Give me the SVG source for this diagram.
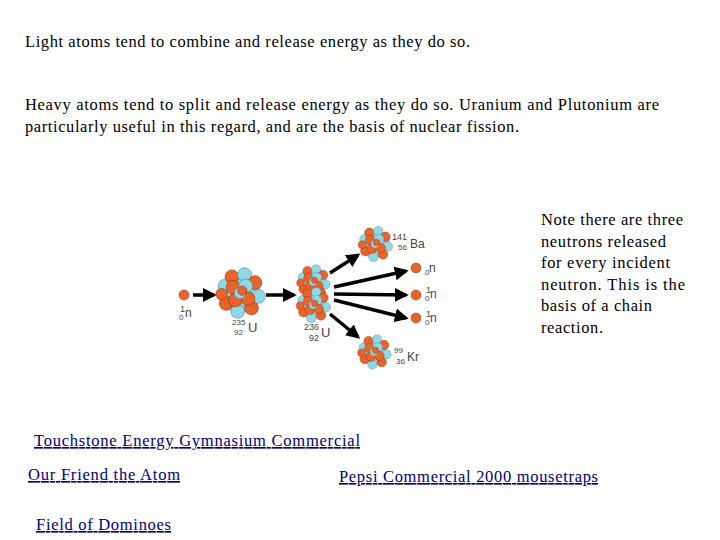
<svg xmlns="http://www.w3.org/2000/svg" xmlns:xlink="http://www.w3.org/1999/xlink" width="720" height="540" viewBox="0 0 720 540">
<style>
.t{font-family:"Liberation Serif",serif;font-size:16.5px;fill:#000}
.l{font-family:"Liberation Serif",serif;font-size:16.5px;fill:#000080;text-decoration:underline}
.s{font-family:"Liberation Sans",sans-serif;fill:#444}
.o{fill:#e8642a;stroke:#8a3010;stroke-width:0.5}
.b{fill:#8fd8e8;stroke:#3a8aa0;stroke-width:0.5}
.a{stroke:#000;stroke-width:3.5;fill:none}
</style>
<defs>
<marker id="ah" viewBox="0 0 10 10" refX="8" refY="5" markerWidth="4" markerHeight="4" orient="auto"><path d="M0,0L10,5L0,10z" fill="#000"/></marker>
<g id="nuc">
<circle class="b" cx="0" cy="0" r="17"/>
<circle class="b" cx="-13" cy="-6" r="6"/><circle class="o" cx="-7" cy="-14" r="6"/><circle class="b" cx="4" cy="-16" r="6"/><circle class="o" cx="13" cy="-9" r="6"/>
<circle class="b" cx="16" cy="3" r="6"/><circle class="o" cx="10" cy="13" r="6"/><circle class="b" cx="-2" cy="16" r="6"/><circle class="o" cx="-12" cy="9" r="6"/>
<circle class="o" cx="-16" cy="1" r="5"/><circle class="o" cx="-6" cy="-5" r="6"/><circle class="b" cx="5" cy="-6" r="6"/><circle class="o" cx="-4" cy="6" r="6"/><circle class="o" cx="7" cy="5" r="6"/><circle class="b" cx="0" cy="0" r="5"/><circle class="o" cx="2" cy="-2" r="4"/>
</g>
<circle id="n" class="o" r="5"/>
</defs>
<text class="t" x="25" y="47" textLength="445">Light atoms tend to combine and release energy as they do so.</text>
<text class="t" x="25" y="110" textLength="634">Heavy atoms tend to split and release energy as they do so.  Uranium and Plutonium are</text>
<text class="t" x="25" y="132" textLength="494">particularly useful in this regard, and are the basis of nuclear fission.</text>
<g id="note">
<text class="t" x="541" y="225" textLength="142">Note there are three</text>
<text class="t" x="541" y="247" textLength="125">neutrons released</text>
<text class="t" x="541" y="268" textLength="129">for every incident</text>
<text class="t" x="541" y="290" textLength="144">neutron.  This is the</text>
<text class="t" x="541" y="311" textLength="111">basis of a chain</text>
<text class="t" x="541" y="333" textLength="62">reaction.</text>
</g>
<g id="connectors">
<line class="a" x1="193" y1="295" x2="214" y2="295" marker-end="url(#ah)"/>
<line class="a" x1="266" y1="295" x2="294" y2="295" marker-end="url(#ah)"/>
<line class="a" x1="330" y1="273" x2="358" y2="255" marker-end="url(#ah)"/>
<line class="a" x1="334" y1="287" x2="406" y2="271" marker-end="url(#ah)"/>
<line class="a" x1="334" y1="294" x2="406" y2="295" marker-end="url(#ah)"/>
<line class="a" x1="334" y1="300" x2="406" y2="318" marker-end="url(#ah)"/>
<line class="a" x1="330" y1="314" x2="358" y2="337" marker-end="url(#ah)"/>
</g>
<g id="n0"><use xlink:href="#n" x="184" y="295"/><text class="s" x="180" y="312" font-size="9">1</text><text class="s" x="179" y="320" font-size="8">0</text><text class="s" x="185" y="317" font-size="12">n</text></g>
<g id="u235"><use xlink:href="#nuc" transform="translate(240,293) scale(1.15)"/><text class="s" x="232" y="325" font-size="8">235</text><text class="s" x="234" y="335" font-size="8">92</text><text class="s" x="248" y="332" font-size="13">U</text></g>
<g id="u236"><use xlink:href="#nuc" transform="translate(313,282) scale(0.78)"/><use xlink:href="#nuc" transform="translate(313,305) scale(0.8)"/><text class="s" x="304" y="330" font-size="9">236</text><text class="s" x="309" y="341" font-size="9">92</text><text class="s" x="321" y="337" font-size="13">U</text></g>
<g id="ba"><use xlink:href="#nuc" transform="translate(375,244) scale(0.8)"/><text class="s" x="392" y="240" font-size="9">141</text><text class="s" x="398" y="250" font-size="8">56</text><text class="s" x="410" y="248" font-size="12">Ba</text></g>
<g id="kr"><use xlink:href="#nuc" transform="translate(374,352) scale(0.78)"/><text class="s" x="394" y="353" font-size="8">99</text><text class="s" x="396" y="364" font-size="8">36</text><text class="s" x="407" y="361" font-size="12">Kr</text></g>
<g id="n1"><use xlink:href="#n" x="416" y="268"/><text class="s" x="425" y="275" font-size="8">0</text><text class="s" x="429" y="272" font-size="12">n</text></g>
<g id="n2"><use xlink:href="#n" x="416" y="295"/><text class="s" x="426" y="293" font-size="9">1</text><text class="s" x="425" y="301" font-size="8">0</text><text class="s" x="430" y="298" font-size="12">n</text></g>
<g id="n3"><use xlink:href="#n" x="416" y="318"/><text class="s" x="426" y="317" font-size="9">1</text><text class="s" x="425" y="325" font-size="8">0</text><text class="s" x="430" y="322" font-size="12">n</text></g>
<g id="links">
<text class="l" x="34" y="446" textLength="326">Touchstone Energy Gymnasium Commercial</text>
<text class="l" x="28" y="480" textLength="152">Our Friend the Atom</text>
<text class="l" x="339" y="482" textLength="259">Pepsi Commercial 2000 mousetraps</text>
<text class="l" x="36" y="530" textLength="135">Field of Dominoes</text>
</g>
</svg>
